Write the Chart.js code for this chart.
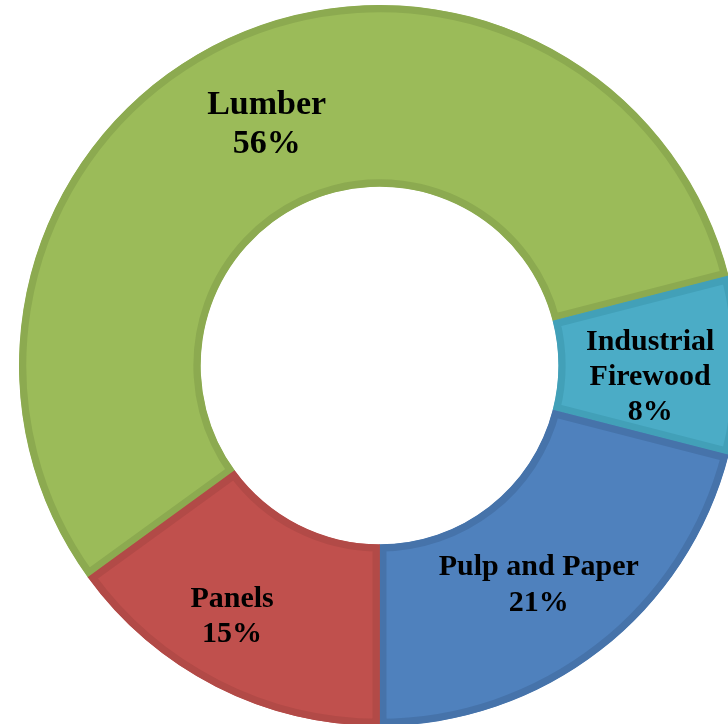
<!DOCTYPE html>
<html>
<head>
<meta charset="utf-8">
<script src="https://cdn.jsdelivr.net/npm/chart.js@4/dist/chart.umd.min.js"></script>
<style>
  html, body { margin: 0; padding: 0; width: 728px; height: 724px; overflow: hidden; background: #ffffff; }
  #wrap { position: absolute; left: 19px; top: 5px; width: 721px; height: 721px; }
</style>
</head>
<body>
<div id="wrap"><canvas id="c"></canvas></div>
<script>
const categories = [['Lumber'], ['Industrial', 'Firewood'], ['Pulp and Paper'], ['Panels']];
const shares = [56, 8, 21, 15];
const fillColors = ['#9BBB59', '#4BACC6', '#4F81BD', '#C0504D'];
const edgeColors = ['#8CAA50', '#42A0B8', '#4673AA', '#B24A47'];

// label styling/nudges (px) so labels sit where the reference puts them
const labelStyle = [
  { dx: 2, dy: 3, size: 34, lh: 39 },
  { dx: 1, dy: 12, size: 30, lh: 35 },
  { dx: -6, dy: 7, size: 30, lh: 36 },
  { dx: -25, dy: 11, size: 30, lh: 35 }
];

const labelPlugin = {
  id: 'sliceLabels',
  afterDatasetsDraw(chart) {
    const ctx = chart.ctx;
    const meta = chart.getDatasetMeta(0);
    const data = chart.data.datasets[0].data;
    const total = data.reduce((a, b) => a + b, 0);
    ctx.save();
    ctx.fillStyle = '#000000';
    ctx.textAlign = 'center';
    ctx.textBaseline = 'middle';
    meta.data.forEach((arc, i) => {
      const st = labelStyle[i];
      ctx.font = 'bold ' + st.size + 'px "Liberation Serif", "Times New Roman", serif';
      const p = arc.getProps(['x', 'y', 'startAngle', 'endAngle', 'innerRadius', 'outerRadius'], true);
      const mid = (p.startAngle + p.endAngle) / 2;
      const r = (p.innerRadius + p.outerRadius) / 2;
      const cx = p.x + Math.cos(mid) * r + st.dx;
      const cy = p.y + Math.sin(mid) * r + st.dy;
      const lines = [...chart.data.labels[i], Math.round(data[i] / total * 100) + '%'];
      const top = cy - (lines.length - 1) * st.lh / 2;
      lines.forEach((t, k) => ctx.fillText(t, cx, top + k * st.lh));
    });
    ctx.restore();
  }
};

new Chart(document.getElementById('c'), {
  type: 'doughnut',
  data: {
    labels: categories,
    datasets: [{
      data: shares,
      backgroundColor: fillColors,
      borderColor: edgeColors,
      borderWidth: 7,
      borderAlign: 'inner',
      hoverOffset: 0
    }]
  },
  options: {
    responsive: true,
    maintainAspectRatio: false,
    animation: false,
    rotation: -126,
    cutout: '49.6%',
    layout: { padding: 0 },
    plugins: {
      legend: { display: false },
      tooltip: { enabled: false }
    }
  },
  plugins: [labelPlugin]
});
</script>
</body>
</html>
